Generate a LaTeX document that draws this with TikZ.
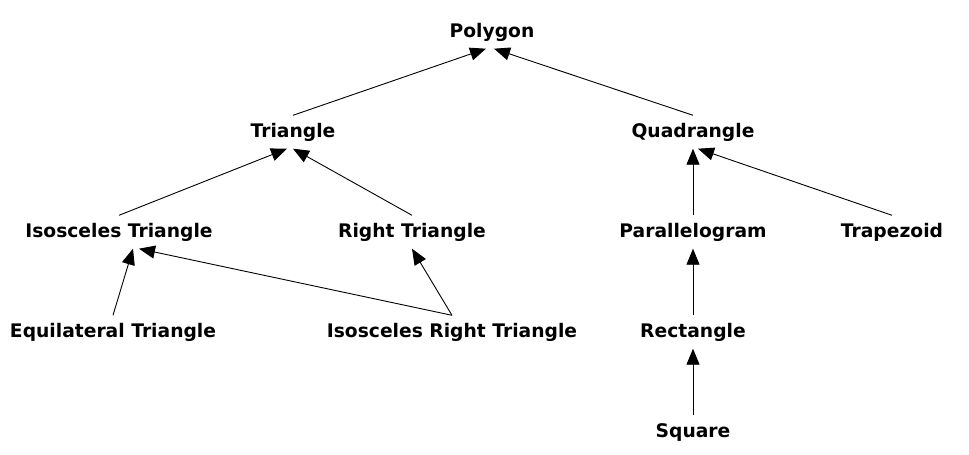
\documentclass[tikz,border=0pt]{standalone}
\usepackage{fontspec}
\setmainfont{DejaVu Sans}
\usetikzlibrary{arrows.meta}
\begin{document}
\begin{tikzpicture}[x=1pt,y=-1pt,
  cls/.style={anchor=base,inner xsep=2pt,inner ysep=8pt,text height=14pt,text depth=3pt,
    font=\fontsize{18.7pt}{22pt}\selectfont\bfseries},
  gen/.style={draw=black,line width=0.9pt,-{Triangle[length=16pt,width=13pt]}}]
\useasboundingbox (0,0) rectangle (969,455);
\node[cls] (poly) at (492,37.5) {Polygon};
\node[cls] (tri) at (293,137.5) {Triangle};
\node[cls] (quad) at (693,137.5) {Quadrangle};
\node[cls] (iso) at (119,237.5) {Isosceles Triangle};
\node[cls] (right) at (412,237.5) {Right Triangle};
\node[cls] (para) at (693,237.5) {Parallelogram};
\node[cls] (trap) at (892,237.5) {Trapezoid};
\node[cls] (equi) at (113,337.5) {Equilateral Triangle};
\node[cls] (isor) at (452,337.5) {Isosceles Right Triangle};
\node[cls] (rect) at (693,337.5) {Rectangle};
\node[cls] (sq) at (693,437.5) {Square};
\draw[gen] (tri.north) -- ([xshift=-6pt]poly.south);
\draw[gen] (quad.north) -- ([xshift=2pt]poly.south);
\draw[gen] (iso.north) -- ([xshift=-6pt]tri.south);
\draw[gen] (right.north) -- (tri.south);
\draw[gen] (para.north) -- (quad.south);
\draw[gen] (trap.north) -- ([xshift=5pt]quad.south);
\draw[gen] (equi.north) -- ([xshift=14pt]iso.south);
\draw[gen] (isor.north) -- ([xshift=20pt]iso.south);
\draw[gen] (isor.north) -- (right.south);
\draw[gen] (rect.north) -- (para.south);
\draw[gen] (sq.north) -- (rect.south);
\end{tikzpicture}
\end{document}
